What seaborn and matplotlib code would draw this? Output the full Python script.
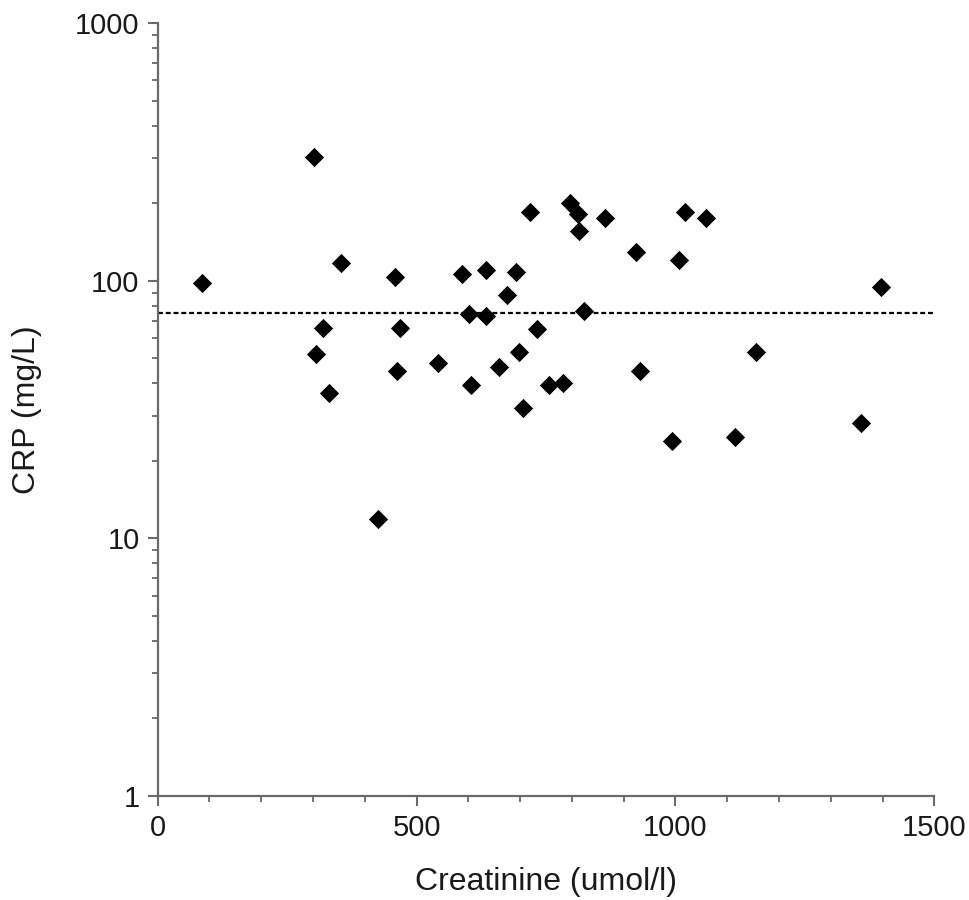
import matplotlib
matplotlib.use("Agg")
import matplotlib.pyplot as plt
import matplotlib.ticker as mticker
import seaborn as sns
import pandas as pd

creatinine = [85, 301, 305, 320, 331, 354, 426, 458, 469, 462, 542, 588, 634, 692,
              674, 719, 796, 812, 814, 864, 923, 1018, 1060, 1007, 601, 634, 823,
              732, 698, 659, 605, 756, 783, 706, 932, 1155, 994, 1116, 1398, 1358]
crp = [97.9, 303.5, 51.9, 65.5, 36.8, 117.7, 11.9, 103.3, 65.5, 44.8, 47.9, 106.1,
       110.2, 108.0, 88.2, 184.6, 200.0, 181.4, 156.2, 175.0, 129.5, 185.6, 176.0,
       120.2, 74.4, 73.3, 76.6, 64.9, 53.1, 46.5, 39.4, 39.4, 40.0, 32.0, 44.7,
       53.1, 23.8, 24.8, 95.0, 28.0]
ref_level = 75.0
x_ticks = [0, 500, 1000, 1500]
y_ticks = [1, 10, 100, 1000]
y_tick_labels = ["1", "10", "100", "1000"]

df = pd.DataFrame({"Creatinine": creatinine, "CRP": crp})

sns.set_style("ticks")
plt.rcParams["font.family"] = ["Liberation Sans", "DejaVu Sans"]

fig = plt.figure(figsize=(9.69, 9.0), dpi=100)
ax = fig.add_axes([0.1627, 0.1156, 0.8015, 0.8585])

sns.scatterplot(data=df, x="Creatinine", y="CRP", marker="D", color="black",
                s=96, linewidth=0, ax=ax, zorder=3)
ax.axhline(ref_level, color="black", linestyle=(0, (2.2, 1.3)), linewidth=1.6, zorder=2)

ax.set_yscale("log")
ax.set_xlim(0, 1500)
ax.set_ylim(1, 1000)
ax.set_xticks(x_ticks)
ax.xaxis.set_minor_locator(mticker.MultipleLocator(100))
ax.set_yticks(y_ticks)
ax.set_yticklabels(y_tick_labels)
ax.yaxis.set_minor_locator(mticker.LogLocator(base=10, subs=range(2, 10)))
ax.yaxis.set_minor_formatter(mticker.NullFormatter())

spine_col = "#6a6a6a"
for side in ["top", "right"]:
    ax.spines[side].set_visible(False)
for side in ["left", "bottom"]:
    ax.spines[side].set_color(spine_col)
    ax.spines[side].set_linewidth(1.6)

ax.tick_params(which="major", direction="out", length=7, width=1.5, color=spine_col,
               labelsize=21, labelcolor="#1a1a1a", pad=6)
ax.tick_params(which="minor", direction="out", length=4.5, width=1.3, color=spine_col)

ax.set_xlabel("Creatinine (umol/l)", fontsize=23, color="#1a1a1a", labelpad=18)
ax.set_ylabel("CRP (mg/L)", fontsize=23, color="#1a1a1a", labelpad=24)

fig.savefig("out.png", dpi=100)
